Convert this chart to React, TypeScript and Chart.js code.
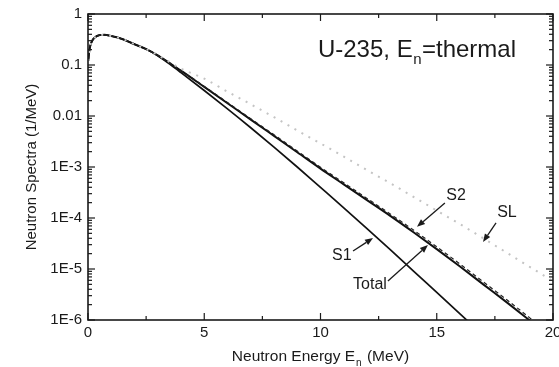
import React, { useEffect, useRef } from 'react';
import { Chart, registerables } from 'chart.js';

Chart.register(...registerables);

// ---- data ----
const energyMeV = [0.01, 0.05, 0.1, 0.2, 0.3, 0.5, 0.7, 1, 1.5, 2, 2.5, 3, 3.5, 4, 5, 6, 7, 8, 9, 10, 11, 12, 13, 14, 15, 16, 17, 18, 19, 20];
const totalSpectrum = [0.12, 0.18, 0.24, 0.31, 0.35, 0.385, 0.39, 0.37, 0.32, 0.255, 0.205, 0.155, 0.11, 0.0776, 0.0372, 0.0178, 0.0085, 0.00407, 0.00195, 9.3e-4, 4.57e-4, 2.24e-4, 1.1e-4, 5.25e-5, 2.45e-5, 1.12e-5, 5.0e-6, 2.24e-6, 9.8e-7, 4.2e-7];
const s1Spectrum = [0.12, 0.18, 0.24, 0.31, 0.35, 0.385, 0.39, 0.37, 0.32, 0.255, 0.205, 0.152, 0.105, 0.0708, 0.0316, 0.0138, 0.00589, 0.00245, 0.001, 3.98e-4, 1.58e-4, 6.17e-5, 2.4e-5, 9.1e-6, 3.47e-6, 1.32e-6, 5.0e-7, 1.9e-7, 7.0e-8, 2.6e-8];
const s2Spectrum = [0.12, 0.18, 0.24, 0.31, 0.35, 0.385, 0.39, 0.37, 0.32, 0.255, 0.205, 0.155, 0.11, 0.078, 0.038, 0.0183, 0.0088, 0.0043, 0.00206, 9.9e-4, 4.9e-4, 2.42e-4, 1.2e-4, 5.8e-5, 2.72e-5, 1.25e-5, 5.6e-6, 2.52e-6, 1.1e-6, 4.7e-7];
const slSpectrum = [0.12, 0.18, 0.24, 0.31, 0.35, 0.385, 0.39, 0.37, 0.32, 0.255, 0.205, 0.156, 0.115, 0.085, 0.054, 0.03, 0.017, 0.0095, 0.0052, 0.0029, 0.0016, 8.7e-4, 4.8e-4, 2.6e-4, 1.4e-4, 7.6e-5, 4.0e-5, 2.1e-5, 1.1e-5, 5.8e-6];

const xTickValues = [0, 5, 10, 15, 20];
const xTickLabels = ['0', '5', '10', '15', '20'];
const xMinorTickValues = [2.5, 7.5, 12.5, 17.5];
const yTickValues = [1e-6, 1e-5, 1e-4, 1e-3, 1e-2, 1e-1, 1];
const yTickLabels = ['1E-6', '1E-5', '1E-4', '1E-3', '0.01', '0.1', '1'];

const xTitleMain = 'Neutron Energy E';
const xTitleSub = 'n';
const xTitleTail = ' (MeV)';
const yTitle = 'Neutron Spectra (1/MeV)';

// curve annotations: text, text anchor (data coords), arrow start, arrow tip
const curveNotes = [
  { text: 'S1', at: [10.92, 1.8e-5], from: [11.4, 2.25e-5], to: [12.26, 4.05e-5] },
  { text: 'Total', at: [12.13, 4.9e-6], from: [12.9, 5.8e-6], to: [14.62, 2.95e-5] },
  { text: 'S2', at: [15.83, 2.7e-4], from: [15.35, 1.97e-4], to: [14.15, 6.7e-5] },
  { text: 'SL', at: [18.02, 1.3e-4], from: [17.55, 8.0e-5], to: [16.99, 3.4e-5] },
];
const caseLabel = { main: 'U-235, E', sub: 'n', tail: '=thermal', at: [9.89, 0.1435] };

const FONT = "'Liberation Sans', Arial, Helvetica, sans-serif";
const INK = '#1a1a1a';

function isDecade(v: number) {
  const l = Math.log10(v);
  return Math.abs(l - Math.round(l)) < 1e-6;
}

const decorPlugin = {
  id: 'decor',
  afterDatasetsDraw(chart: any) {
    const { ctx, chartArea: a, scales } = chart;
    const xs = scales.x;
    const ys = scales.y;
    ctx.save();
    ctx.strokeStyle = INK;
    ctx.fillStyle = INK;

    const seg = (x1: number, y1: number, x2: number, y2: number) => {
      ctx.beginPath();
      ctx.moveTo(x1, y1);
      ctx.lineTo(x2, y2);
      ctx.stroke();
    };

    // y ticks (major at decades, minor 2..9)
    ctx.lineWidth = 1.2;
    for (let d = -6; d <= 0; d++) {
      for (let m = 1; m <= 9; m++) {
        const v = m * Math.pow(10, d);
        if (v > 1.0000001) continue;
        const py = ys.getPixelForValue(v);
        const len = m === 1 ? 7 : 4;
        seg(a.left, py, a.left + len, py);
        seg(a.right, py, a.right - len, py);
      }
    }
    // x ticks
    xTickValues.forEach((v) => {
      const px = xs.getPixelForValue(v);
      seg(px, a.bottom, px, a.bottom - 7);
      seg(px, a.top, px, a.top + 7);
    });
    xMinorTickValues.forEach((v) => {
      const px = xs.getPixelForValue(v);
      seg(px, a.bottom, px, a.bottom - 4);
      seg(px, a.top, px, a.top + 4);
    });

    // frame
    ctx.lineWidth = 1.6;
    ctx.strokeRect(a.left, a.top, a.right - a.left, a.bottom - a.top);

    // curve notes with arrows
    ctx.lineWidth = 1.3;
    curveNotes.forEach((n) => {
      const x1 = xs.getPixelForValue(n.from[0]);
      const y1 = ys.getPixelForValue(n.from[1]);
      const x2 = xs.getPixelForValue(n.to[0]);
      const y2 = ys.getPixelForValue(n.to[1]);
      const ang = Math.atan2(y2 - y1, x2 - x1);
      const hl = 8;
      const hw = 3.2;
      const bx = x2 - hl * Math.cos(ang);
      const by = y2 - hl * Math.sin(ang);
      seg(x1, y1, bx, by);
      ctx.beginPath();
      ctx.moveTo(x2, y2);
      ctx.lineTo(bx + hw * Math.sin(ang), by - hw * Math.cos(ang));
      ctx.lineTo(bx - hw * Math.sin(ang), by + hw * Math.cos(ang));
      ctx.closePath();
      ctx.fill();

      ctx.font = `16px ${FONT}`;
      ctx.textAlign = 'center';
      ctx.textBaseline = 'middle';
      ctx.fillText(n.text, xs.getPixelForValue(n.at[0]), ys.getPixelForValue(n.at[1]));
    });

    // case label with subscript
    {
      const lx = xs.getPixelForValue(caseLabel.at[0]);
      const ly = ys.getPixelForValue(caseLabel.at[1]);
      ctx.textAlign = 'left';
      ctx.textBaseline = 'alphabetic';
      ctx.font = `24px ${FONT}`;
      ctx.fillText(caseLabel.main, lx, ly);
      let cx = lx + ctx.measureText(caseLabel.main).width + 0.5;
      ctx.font = `15px ${FONT}`;
      ctx.fillText(caseLabel.sub, cx, ly + 7);
      cx += ctx.measureText(caseLabel.sub).width + 0.5;
      ctx.font = `24px ${FONT}`;
      ctx.fillText(caseLabel.tail, cx, ly);
    }

    // x axis title with subscript
    {
      ctx.textAlign = 'left';
      ctx.textBaseline = 'alphabetic';
      ctx.font = `15.5px ${FONT}`;
      const w1 = ctx.measureText(xTitleMain).width;
      const w3 = ctx.measureText(xTitleTail).width;
      ctx.font = `10px ${FONT}`;
      const w2 = ctx.measureText(xTitleSub).width;
      const total = w1 + w2 + w3 + 2;
      const cxm = (a.left + a.right) / 2;
      let sx = cxm - total / 2;
      const base = a.bottom + 41;
      ctx.font = `15.5px ${FONT}`;
      ctx.fillText(xTitleMain, sx, base);
      sx += w1 + 1;
      ctx.font = `10px ${FONT}`;
      ctx.fillText(xTitleSub, sx, base + 5);
      sx += w2 + 1;
      ctx.font = `15.5px ${FONT}`;
      ctx.fillText(xTitleTail, sx, base);
    }
    ctx.restore();
  },
};

function series(values: number[]) {
  return energyMeV.map((e, i) => ({ x: e, y: values[i] }));
}

export default function App() {
  const ref = useRef<HTMLCanvasElement>(null);
  useEffect(() => {
    document.body.style.margin = '0';
    const canvas = ref.current;
    if (!canvas) return;
    const chart = new Chart(canvas, {
      type: 'line',
      data: {
        datasets: [
          {
            label: 'SL',
            data: series(slSpectrum),
            borderColor: '#c4c4c4',
            borderWidth: 2,
            borderDash: [2, 6],
            pointRadius: 0,
            cubicInterpolationMode: 'monotone',
          },
          {
            label: 'S2',
            data: series(s2Spectrum),
            borderColor: '#222',
            borderWidth: 1.2,
            borderDash: [4, 3],
            pointRadius: 0,
            cubicInterpolationMode: 'monotone',
          },
          {
            label: 'S1',
            data: series(s1Spectrum),
            borderColor: '#111',
            borderWidth: 1.7,
            pointRadius: 0,
            cubicInterpolationMode: 'monotone',
          },
          {
            label: 'Total',
            data: series(totalSpectrum),
            borderColor: '#111',
            borderWidth: 2,
            pointRadius: 0,
            cubicInterpolationMode: 'monotone',
          },
        ],
      },
      options: {
        animation: false,
        responsive: false,
        devicePixelRatio: 1,
        layout: { padding: { top: 14, right: 6, left: 0, bottom: 0 } },
        plugins: { legend: { display: false }, tooltip: { enabled: false } },
        scales: {
          x: {
            type: 'linear',
            min: 0,
            max: 20,
            grid: { display: false, drawTicks: false },
            border: { display: false },
            afterBuildTicks: (s: any) => {
              s.ticks = xTickValues.map((v) => ({ value: v }));
            },
            afterFit: (s: any) => {
              s.height = 47;
              s.paddingLeft = 0;
              s.paddingRight = 0;
            },
            ticks: {
              autoSkip: false,
              maxRotation: 0,
              padding: 4,
              color: INK,
              font: { family: FONT, size: 15 },
              callback: (v: any) => {
                const i = xTickValues.indexOf(Number(v));
                return i >= 0 ? xTickLabels[i] : '';
              },
            },
          },
          y: {
            type: 'logarithmic',
            min: 1e-6,
            max: 1,
            grid: { display: false, drawTicks: false },
            border: { display: false },
            afterBuildTicks: (s: any) => {
              s.ticks = yTickValues.map((v) => ({ value: v, major: true }));
            },
            afterFit: (s: any) => {
              s.width = 88;
              s.paddingTop = 0;
              s.paddingBottom = 0;
            },
            title: {
              display: true,
              text: yTitle,
              color: INK,
              font: { family: FONT, size: 15 },
              padding: { top: 23, bottom: 0 },
            },
            ticks: {
              autoSkip: false,
              padding: 6,
              color: INK,
              font: { family: FONT, size: 15 },
              callback: (v: any) => {
                const val = Number(v);
                if (!isDecade(val)) return '';
                const i = yTickValues.findIndex((t) => Math.abs(Math.log10(t) - Math.log10(val)) < 1e-6);
                return i >= 0 ? yTickLabels[i] : '';
              },
            },
          },
        },
      },
      plugins: [decorPlugin],
    } as any);
    return () => chart.destroy();
  }, []);
  return (
    <div style={{ width: 559, height: 367, position: 'relative', background: '#fff' }}>
      <canvas ref={ref} width={559} height={367} style={{ display: 'block' }} />
    </div>
  );
}
